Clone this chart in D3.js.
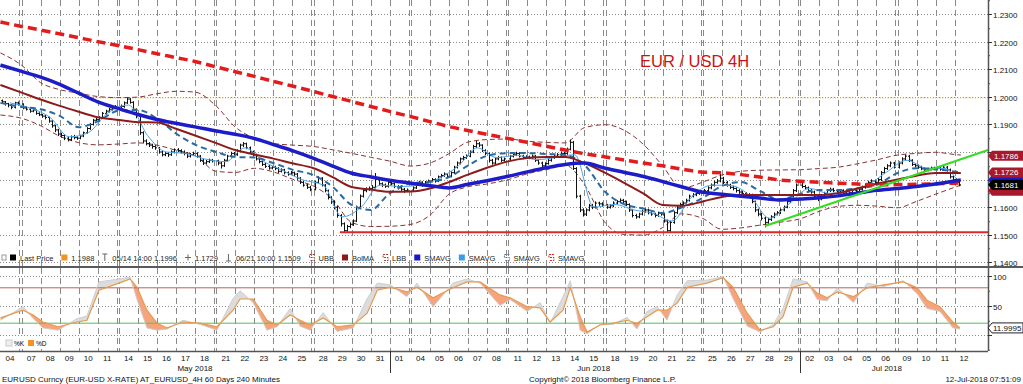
<!DOCTYPE html>
<html>
<head>
<meta charset="utf-8">
<script src="https://cdn.jsdelivr.net/npm/d3@7"></script>
<style>
body { margin: 0; background: #fff; }
svg text { font-family: "Liberation Sans", Arial, sans-serif; }
</style>
</head>
<body>
<svg id="chart"></svg>
<script>
var width = 1023,
    height = 384;

// trading days on the chart
var mayDays = [4,7,8,9,10,11,14,15,16,17,18,21,22,23,24,25,28,29,30,31];
var junDays = [1,4,5,6,7,8,11,12,13,14,15,18,19,20,21,22,25,26,27,28,29];
var julDays = [2,3,4,5,6,9,10,11,12];
var monthNames = ["May 2018", "Jun 2018", "Jul 2018"];
var priceTicks = [1.14,1.15,1.16,1.17,1.18,1.19,1.20,1.21,1.22,1.23];
var stochTicks = [0, 50, 100];

// 4H bars [high, low, close] in pips above 1.1000, one array per week
var wk0504 = [[990,976,982],[985,968,975],[978,962,970],[973,955,962],[982,958,978],[983,968,974]];
var wk0507 = [
  [976,955,960],[966,950,955],[958,942,948],[957,944,952],[954,935,940],[944,930,935],
  [938,924,930],[934,918,925],[928,906,912],[915,888,895],[899,872,880],[884,858,865],
  [870,852,860],[864,843,850],[856,838,845],[860,840,855],[862,846,852],[857,844,850],
  [862,846,858],[874,854,870],[890,866,885],[905,880,900],[920,896,915],[924,910,918],
  [930,913,925],[945,920,940],[953,935,948],[960,943,955],[966,950,960],[970,955,965]];
var wk0514 = [
  [972,958,965],[983,960,978],[996,974,992],[995,975,980],[984,950,955],[958,922,930],
  [933,862,870],[875,832,840],[846,824,830],[836,818,825],[830,812,820],[826,808,815],
  [818,794,800],[805,784,790],[800,785,795],[800,782,790],[806,786,800],[813,795,808],
  [814,799,805],[810,794,800],[806,788,795],[799,778,785],[796,780,790],[801,785,795],
  [799,779,785],[789,764,770],[775,753,760],[771,755,765],[776,760,770],[775,762,768]];
var wk0521 = [
  [772,752,760],[764,740,750],[775,746,770],[790,766,785],[801,780,795],[800,784,790],
  [810,786,805],[830,800,825],[836,818,830],[834,810,815],[820,794,800],[805,784,790],
  [794,769,775],[780,759,765],[770,749,755],[760,742,748],[753,736,742],[750,737,745],
  [750,734,740],[745,724,730],[741,726,735],[739,719,725],[730,714,720],[731,716,725],
  [729,713,720],[724,699,705],[709,684,690],[695,674,680],[685,666,672],[677,658,665]];
var wk0528 = [
  [695,661,690],[712,686,705],[709,675,680],[684,654,660],[664,628,635],[640,612,620],
  [625,592,600],[605,562,570],[575,530,540],[545,510,515],[536,511,530],[545,524,538],
  [556,532,550],[606,546,600],[646,595,640],[667,635,660],[672,654,665],[675,659,668],
  [680,662,672],[724,668,700],[705,678,685],[690,673,680],[686,670,676],[695,671,690],
  [695,679,685],[689,669,675],[680,664,670],[676,659,665],[670,652,660],[668,655,662]];
var wk0604 = [
  [676,658,670],[690,666,685],[696,680,690],[694,674,680],[695,676,690],[700,686,695],
  [706,690,700],[705,689,695],[715,691,710],[721,705,715],[726,710,720],[724,706,712],
  [730,708,725],[750,720,745],[766,740,760],[780,755,775],[786,770,780],[791,775,785],
  [806,781,800],[826,796,820],[840,815,830],[836,818,825],[828,800,805],[810,789,795],
  [798,762,770],[775,754,760],[780,756,775],[786,770,780],[784,764,770],[780,765,775]];
var wk0611 = [
  [790,770,785],[795,780,790],[801,785,795],[799,780,785],[790,774,780],[788,775,782],
  [787,774,780],[791,775,785],[789,764,770],[774,754,760],[765,744,750],[763,745,758],
  [775,754,770],[786,765,780],[790,775,785],[796,780,790],[802,785,795],[801,788,795],
  [816,790,810],[845,806,835],[840,735,740],[745,632,640],[645,582,590],[596,566,575],
  [596,568,590],[612,585,605],[612,593,600],[621,595,615],[620,605,612],[618,601,608]];
var wk0618 = [
  [612,594,600],[611,595,605],[621,600,615],[626,610,620],[632,615,625],[630,614,620],
  [624,604,610],[614,583,590],[594,563,570],[576,558,565],[580,560,575],[591,570,585],
  [596,580,590],[595,574,580],[585,569,575],[580,563,570],[584,565,578],[583,569,575],
  [579,544,550],[555,508,515],[550,511,545],[586,540,580],[606,575,600],[616,595,610],
  [621,605,615],[631,610,625],[646,620,640],[651,635,645],[656,640,650],[661,645,655]];
var wk0625 = [
  [666,650,660],[676,655,670],[686,665,680],[696,675,690],[702,685,695],[728,690,705],
  [710,684,690],[695,674,680],[685,666,672],[678,661,668],[672,653,660],[665,648,655],
  [660,644,650],[655,634,640],[651,635,645],[649,614,620],[624,582,590],[595,567,575],
  [580,552,560],[565,527,545],[561,540,555],[571,550,565],[581,560,575],[586,570,580],
  [596,575,590],[606,585,600],[626,596,620],[646,615,640],[666,635,660],[686,655,680]];
var wk0702 = [
  [688,669,675],[681,664,670],[675,654,660],[666,649,655],[660,633,640],[645,622,630],
  [646,625,640],[656,635,650],[666,645,660],[671,655,665],[670,654,660],[665,649,655],
  [666,650,660],[665,649,655],[664,650,658],[662,646,652],[666,647,660],[665,650,656],
  [671,651,665],[678,660,672],[686,667,680],[696,675,690],[701,685,695],[700,684,690],
  [706,685,700],[731,695,725],[746,720,740],[756,735,750],[766,745,760],[764,740,745]];
var wk0709 = [
  [766,740,760],[781,755,775],[791,770,785],[789,764,770],[774,749,755],[760,744,750],
  [755,739,745],[750,734,740],[745,729,735],[743,730,738],[747,733,742],[747,734,740],
  [748,735,742],[747,732,738],[751,733,745],[749,729,735],[740,704,710],[715,693,700],
  [705,684,690],[695,676,681]];
var firstOpen = 986;

// studies, one value per day start (last one = end of data)
var sma200 = [1.2271,1.2255,1.2242,1.2228,1.2214,1.2200,1.2185,1.2171,1.2156,1.2142,1.2128,1.2108,1.2091,1.2074,1.2056,1.2039,1.2019,1.2001,1.1983,1.1965,1.1947,1.1928,1.1910,1.1892,1.1878,1.1864,1.1849,1.1835,1.1821,1.1807,1.1794,1.1782,1.1771,1.1760,1.1750,1.1738,1.1727,1.1725,1.1718,1.1709,1.1699,1.1694,1.1690,1.1687,1.1684,1.1681,1.1682,1.1683,1.1685,1.1687,1.1688];
var sma100 = [1.2115,1.2092,1.2071,1.2045,1.2013,1.1982,1.1957,1.1936,1.1918,1.1904,1.1891,1.1876,1.1864,1.1849,1.1827,1.1805,1.1777,1.1749,1.1723,1.1710,1.1698,1.1687,1.1678,1.1670,1.1683,1.1696,1.1712,1.1728,1.1743,1.1755,1.1760,1.1741,1.1726,1.1711,1.1693,1.1674,1.1654,1.1647,1.1640,1.1633,1.1626,1.1630,1.1634,1.1641,1.1651,1.1661,1.1668,1.1675,1.1684,1.1695,1.1699];
var bolMA = [1.2043,1.2015,1.1990,1.1967,1.1946,1.1926,1.1916,1.1908,1.1907,1.1884,1.1860,1.1832,1.1807,1.1791,1.1776,1.1759,1.1741,1.1709,1.1673,1.1664,1.1656,1.1657,1.1668,1.1691,1.1718,1.1743,1.1766,1.1778,1.1782,1.1782,1.1760,1.1724,1.1687,1.1649,1.1608,1.1605,1.1621,1.1637,1.1644,1.1644,1.1644,1.1644,1.1644,1.1651,1.1668,1.1684,1.1700,1.1714,1.1724,1.1724,1.1724];
var ubb = [1.2159,1.2114,1.2051,1.2026,1.2013,1.2001,1.1997,1.1999,1.2011,1.2020,1.2017,1.1966,1.1890,1.1850,1.1831,1.1825,1.1820,1.1808,1.1795,1.1781,1.1767,1.1749,1.1760,1.1794,1.1836,1.1845,1.1847,1.1839,1.1835,1.1833,1.1888,1.1899,1.1878,1.1827,1.1750,1.1669,1.1691,1.1717,1.1730,1.1734,1.1735,1.1736,1.1740,1.1745,1.1757,1.1771,1.1789,1.1795,1.1799,1.1791,1.1789];
var lbb = [1.1934,1.1922,1.1895,1.1857,1.1834,1.1826,1.1829,1.1833,1.1825,1.1806,1.1787,1.1730,1.1726,1.1741,1.1728,1.1702,1.1676,1.1629,1.1545,1.1530,1.1531,1.1538,1.1571,1.1647,1.1674,1.1684,1.1700,1.1721,1.1736,1.1752,1.1683,1.1542,1.1501,1.1499,1.1526,1.1576,1.1559,1.1520,1.1525,1.1535,1.1545,1.1558,1.1585,1.1603,1.1607,1.1604,1.1598,1.1621,1.1647,1.1672,1.1680];
var smaDash = [1.1978,1.1963,1.1955,1.1931,1.1890,1.1911,1.1950,1.1952,1.1921,1.1867,1.1827,1.1800,1.1782,1.1780,1.1760,1.1736,1.1716,1.1674,1.1608,1.1590,1.1650,1.1687,1.1692,1.1709,1.1751,1.1786,1.1796,1.1796,1.1793,1.1789,1.1754,1.1654,1.1610,1.1595,1.1579,1.1599,1.1634,1.1677,1.1691,1.1659,1.1628,1.1648,1.1662,1.1662,1.1668,1.1680,1.1724,1.1741,1.1737,1.1729,1.1724];
// fast average, mid-day, pips above 1.1000
var smaFast = [978,958,925,855,870,940,970,860,800,795,775,765,815,765,733,700,680,565,600,680,675,680,705,750,815,780,788,772,780,790,600,610,590,578,550,635,680,678,640,560,610,668,650,657,678,725,770,742,740,695];

var highLine = 1.1996;
var support = [[104.3, 1.1509], [304.6, 1.1509]];
var trend = [[235.6, 1.1532], [304.6, 1.1807]];

// stochastics (bar index, %D, %K)
var stochT = [0,6.4,9.6,12.7,17.5,23.5,26.6,30.4,36,39.5,41.7,44.8,48,51.2,56.2,61.6,66.2,71.3,73.5,77.6,82,85.2,89.3,92.5,95.6,99,103.4,108.5,112.9,116.1,120.2,125.4,127.9,133,139.3,143.7,147.8,154.1,156.6,162,166.1,169.2,173.3,175.6,178.7,180.9,185,188.4,192.8,195.9,199.1,202.3,205.4,208.6,211.8,217.3,222.4,225.5,230,234.1,238.2,241.3,244.5,248.2,251.4,254.5,257.7,262.8,267.2,272.3,277.8,282.2,285.3,289.4,293.5,295.7];
var stochD = [29,42,34,22,14,22,25,76,88,95,81,42,20,12,22,20,14,42,61,61,25,17,34,25,17,29,14,17,37,76,81,73,81,63,80,90,90,68,63,48,46,22,42,80,31,5,17,20,25,20,31,42,42,54,81,88,97,81,37,8,14,31,81,88,71,63,73,65,80,85,90,80,59,48,22,12];
var stochK = [25,48,28,12,8,28,32,90,95,98,60,12,8,10,25,18,8,62,75,55,8,14,45,15,8,38,6,12,62,88,85,65,88,48,88,95,88,50,60,40,55,20,65,92,8,2,18,18,30,10,40,48,25,68,92,93,99,62,15,5,18,45,95,90,60,58,80,55,88,82,92,70,45,40,12,10];

// right-axis value tags, drawn bottom-up; hidden ones sit behind others
var axisTags = [
  { v: 1.1699, fill: "#1c1cc8", hidden: true },
  { v: 1.1660, fill: "#a8192b", hidden: true },
  { v: 1.1681, fill: "#000000" },
  { v: 1.1726, fill: "#a8192b" },
  { v: 1.1786, fill: "#a8192b" }];
var stochTag = 11.9995;

var legendItems = [
  { icon: "sq", color: "#000", text: "Last Price" },
  { icon: "sq", color: "#f29422", text: "1.1988" },
  { icon: "hi", color: "#666", text: "05/14 14:00 1.1996" },
  { icon: "plus", color: "#666", text: "1.1729" },
  { icon: "lo", color: "#666", text: "06/21 10:00 1.1509" },
  { icon: "dash", color: "#9a3a3a", text: "UBB" },
  { icon: "sq", color: "#8c1c1c", text: "BolMA" },
  { icon: "dash", color: "#9a3a3a", text: "LBB" },
  { icon: "sq", color: "#1818c8", text: "SMAVG" },
  { icon: "sq", color: "#3d9be9", text: "SMAVG" },
  { icon: "dash", color: "#5a7088", text: "SMAVG" },
  { icon: "dash", color: "#e02020", text: "SMAVG" }];

// ---------- layout ----------
var plotR = 988, mainBot = 266, stTop = 268, stBot = 351;

var svg = d3.select("#chart")
    .attr("width", width)
    .attr("height", height);

svg.append("rect").attr("width", width).attr("height", height).style("fill", "white");

var dates = [].concat(
  mayDays.map(d => new Date(2018, 4, d)),
  junDays.map(d => new Date(2018, 5, d)),
  julDays.map(d => new Date(2018, 6, d)));
var weekStarts = [0];
dates.forEach((d, i) => { if (i > 0 && d.getDay() === 1) weekStarts.push(i * 6); });

var gapU = 0.73;
function uOf(t) { return t + (d3.bisectRight(weekStarts, t) - 1) * gapU; }

var x = d3.scaleLinear()
    .domain([0, 6 * dates.length + (weekStarts.length - 1) * gapU])
    .range([0.4, 973.5]);
var y = d3.scaleLinear().domain([1.14, 1.23]).range([262.4, 14]);
var yS = d3.scaleLinear().domain([0, 100]).range([335, 276]);
var pip = v => 1.1 + v / 10000;

var bars = [].concat(wk0504, wk0507, wk0514, wk0521, wk0528, wk0604, wk0611, wk0618, wk0625, wk0702, wk0709);

function dayStartX(i) { return x(uOf(6 * i)); }
function dayEndX(i) { return x(uOf(6 * i) + 6); }

// ---------- grids ----------
var grid = svg.append("g");
priceTicks.forEach(p => {
  grid.append("line")
    .attr("x1", 0).attr("x2", plotR)
    .attr("y1", Math.round(y(p)) + 0.5).attr("y2", Math.round(y(p)) + 0.5)
    .style("stroke", "#8a8a8a").style("stroke-dasharray", "1,2");
});
stochTicks.forEach(v => {
  grid.append("line")
    .attr("x1", 0).attr("x2", plotR)
    .attr("y1", Math.round(yS(v)) + 0.5).attr("y2", Math.round(yS(v)) + 0.5)
    .style("stroke", "#8a8a8a").style("stroke-dasharray", "1,2");
});

var vx = [];
dates.forEach((d, i) => {
  if (i > 0) vx.push(dayStartX(i));
  var nxt = dates[i + 1];
  if (nxt && nxt.getDay() === 1) vx.push(dayEndX(i));
});
vx.forEach(xx => {
  [[0, mainBot], [stTop, stBot]].forEach(r => {
    grid.append("line")
      .attr("x1", Math.round(xx) + 0.5).attr("x2", Math.round(xx) + 0.5)
      .attr("y1", r[0]).attr("y2", r[1])
      .style("stroke", "#8a8a8a").style("stroke-dasharray", "6,4");
  });
});

// ---------- main panel ----------
var main = svg.append("g");

main.append("line")
  .attr("x1", 0).attr("x2", plotR)
  .attr("y1", y(highLine)).attr("y2", y(highLine))
  .style("stroke", "#e2b640").style("stroke-dasharray", "1,1.5");

var dayLine = d3.line()
  .x((v, i) => x(uOf(i < dates.length ? 6 * i : 296)))
  .y(v => y(v))
  .curve(d3.curveMonotoneX);

function addLine(vals, color, w, dash) {
  main.append("path")
    .attr("d", dayLine(vals))
    .style("fill", "none")
    .style("stroke", color)
    .style("stroke-width", w)
    .style("stroke-dasharray", dash || null);
}

addLine(ubb, "#8a3434", 1, "5,3");
addLine(lbb, "#8a3434", 1, "5,3");

// OHLC bars
var barPath = "";
var prev = firstOpen;
bars.forEach((b, t) => {
  var xc = Math.round(x(uOf(t) + 0.5)) + 0.5;
  barPath += "M" + xc + "," + y(pip(b[0])) + "V" + y(pip(b[1]));
  barPath += "M" + (xc - 1.5) + "," + y(pip(prev)) + "H" + xc;
  barPath += "M" + xc + "," + y(pip(b[2])) + "H" + (xc + 1.5);
  prev = b[2];
});
main.append("path").attr("d", barPath)
  .style("fill", "none").style("stroke", "#111").style("stroke-width", 1);

main.append("path")
  .attr("d", d3.line()
    .x((v, i) => x(uOf(Math.min(6 * i + 3, 295))))
    .y(v => y(pip(v)))
    .curve(d3.curveMonotoneX)(smaFast))
  .style("fill", "none").style("stroke", "#4aa3ea").style("stroke-width", 1);

addLine(smaDash, "#2a6aa2", 2, "6,4");
addLine(bolMA, "#8c1c1c", 2);
addLine(sma200, "#e21c1c", 3.5, "9,5");
addLine(sma100, "#1c1cc8", 3.5);

var seg = d3.line().x(d => x(uOf(d[0]))).y(d => y(d[1]));
main.append("path").attr("d", seg(support))
  .style("stroke", "#e02828").style("stroke-width", 2).style("fill", "none");
main.append("path").attr("d", seg(trend))
  .style("stroke", "#33dd22").style("stroke-width", 2).style("fill", "none");

main.append("text")
  .attr("x", 640).attr("y", 67)
  .style("font-size", "16.5px")
  .style("fill", "#cc1111")
  .text("EUR / USD 4H");

// legend row
var lg = svg.append("g").attr("transform", "translate(0,258)");
lg.append("rect").attr("x", 2).attr("y", -3).attr("width", 4).attr("height", 5)
  .style("fill", "none").style("stroke", "#999");
var lx = 10;
legendItems.forEach(it => {
  if (it.icon === "sq") {
    lg.append("rect").attr("x", lx).attr("y", -3.5).attr("width", 6).attr("height", 6).style("fill", it.color);
  } else if (it.icon === "dash") {
    lg.append("path").attr("d", "M" + (lx + 6) + ",-3.5 h-5 v3 h5 v3 h-5")
      .style("fill", "none").style("stroke", it.color).style("stroke-dasharray", "2,1");
  } else if (it.icon === "hi") {
    lg.append("path").attr("d", "M" + lx + ",-4 h5 M" + (lx + 2.5) + ",-4 v7")
      .style("stroke", it.color).style("fill", "none");
  } else if (it.icon === "lo") {
    lg.append("path").attr("d", "M" + lx + ",3 h5 M" + (lx + 2.5) + ",3 v-7")
      .style("stroke", it.color).style("fill", "none");
  } else {
    lg.append("path").attr("d", "M" + lx + ",-0.5 h6 M" + (lx + 3) + ",-3.5 v6")
      .style("stroke", it.color).style("fill", "none");
  }
  var tx = lg.append("text").attr("x", lx + 10).attr("y", 3)
    .style("font-size", "7.5px").style("fill", "#222").text(it.text);
  lx += 10 + tx.node().getComputedTextLength() + 8;
});

// ---------- stochastic panel ----------
var st = svg.append("g");
var sp = stochT.map((t, i) => ({ x: x(uOf(t)), d: stochD[i], k: stochK[i] }));

var clipLine = d3.line().x(d => d.x).y(d => yS(d.d));
var dPath = clipLine(sp);
var x0 = sp[0].x, x1 = sp[sp.length - 1].x;
svg.append("clipPath").attr("id", "above")
  .append("path").attr("d", dPath + "L" + x1 + "," + stTop + "L" + x0 + "," + stTop + "Z");
svg.append("clipPath").attr("id", "below")
  .append("path").attr("d", dPath + "L" + x1 + "," + stBot + "L" + x0 + "," + stBot + "Z");

var band = d3.area().x(d => d.x).y0(d => yS(d.d)).y1(d => yS(d.k));
st.append("path").attr("d", band(sp)).attr("clip-path", "url(#above)")
  .style("fill", "#dcdcdc");
st.append("path").attr("d", band(sp)).attr("clip-path", "url(#below)")
  .style("fill", "#f6a47e");

st.append("line").attr("x1", 0).attr("x2", plotR).attr("y1", yS(80)).attr("y2", yS(80))
  .style("stroke", "#b86060");
st.append("line").attr("x1", 0).attr("x2", plotR).attr("y1", yS(20)).attr("y2", yS(20))
  .style("stroke", "#55c055");

st.append("path").attr("d", d3.line().x(d => d.x).y(d => yS(d.k))(sp))
  .style("fill", "none").style("stroke", "#cfcfcf").style("stroke-width", 1);
st.append("path").attr("d", dPath)
  .style("fill", "none").style("stroke", "#e79a4e").style("stroke-width", 1.2);

var sl = st.append("g").attr("transform", "translate(0,343)");
sl.append("rect").attr("x", 0).attr("y", -6).attr("width", 44).attr("height", 12).style("fill", "white");
sl.append("rect").attr("x", 6).attr("y", -3).attr("width", 6).attr("height", 6).style("fill", "#eee").style("stroke", "#ccc");
sl.append("text").attr("x", 14).attr("y", 2.5).style("font-size", "6.5px").text("%K");
sl.append("rect").attr("x", 28).attr("y", -3).attr("width", 6).attr("height", 6).style("fill", "#f29422");
sl.append("text").attr("x", 36).attr("y", 2.5).style("font-size", "6.5px").text("%D");

// ---------- frame and axes ----------
var fr = svg.append("g");
fr.append("rect").attr("x", 0).attr("y", mainBot).attr("width", width).attr("height", 2).style("fill", "#5a5a5a");
fr.append("line").attr("x1", plotR + 0.5).attr("x2", plotR + 0.5).attr("y1", 0).attr("y2", stBot)
  .style("stroke", "#555").style("stroke-width", 1.5);
fr.append("line").attr("x1", 0).attr("x2", plotR).attr("y1", stBot + 0.5).attr("y2", stBot + 0.5)
  .style("stroke", "#555").style("stroke-width", 1.5);

// a tick label is covered when a visible tag sits on it
var shownTags = axisTags.filter(tg => !tg.hidden);
priceTicks.forEach(p => {
  var yy = Math.round(y(p)) + 0.5;
  fr.append("line").attr("x1", plotR).attr("x2", plotR + 4).attr("y1", yy).attr("y2", yy).style("stroke", "#333");
  fr.append("line").attr("x1", plotR).attr("x2", plotR + 2).attr("y1", yy - 13.8).attr("y2", yy - 13.8).style("stroke", "#555");
  var covered = shownTags.some(tg => Math.abs(y(tg.v) - yy) < 9);
  if (!covered) {
    fr.append("text").attr("x", 993).attr("y", yy + 3).style("font-size", "8px").style("fill", "#111")
      .text(d3.format(".4f")(p));
  }
});
stochTicks.forEach(v => {
  var yy = Math.round(yS(v)) + 0.5;
  fr.append("line").attr("x1", plotR).attr("x2", plotR + 4).attr("y1", yy).attr("y2", yy).style("stroke", "#333");
  fr.append("line").attr("x1", plotR).attr("x2", plotR + 2).attr("y1", yy + 14.75).attr("y2", yy + 14.75).style("stroke", "#555");
  if (Math.abs(yS(stochTag) - yy) > 9) {
    fr.append("text").attr("x", 993).attr("y", yy + 3).style("font-size", "8px").style("fill", "#111").text(v);
  }
});

function tagPath(cy) {
  return "M" + plotR + "," + cy + "L" + (plotR + 4) + "," + (cy - 5) + "H" + width + "V" + (cy + 5) + "H" + (plotR + 4) + "Z";
}
axisTags.forEach(tg => {
  var cy = y(tg.v);
  fr.append("path").attr("d", tagPath(cy)).style("fill", tg.fill);
  if (!tg.hidden) {
    fr.append("text").attr("x", 994).attr("y", cy + 3).style("font-size", "8px").style("fill", "white")
      .text(d3.format(".4f")(tg.v));
  }
});
var sy = yS(stochTag);
fr.append("path").attr("d", tagPath(sy)).style("fill", "white").style("stroke", "#222");
fr.append("text").attr("x", 993).attr("y", sy + 3).style("font-size", "8px").style("fill", "#111")
  .text(stochTag);

// date axis
dates.forEach((d, i) => {
  fr.append("text")
    .attr("x", (dayStartX(i) + dayEndX(i)) / 2).attr("y", 361)
    .attr("text-anchor", "middle")
    .style("font-size", "8px").style("fill", "#111")
    .text(d3.timeFormat("%d")(d));
});
[mayDays, junDays, julDays].forEach((m, k) => {
  var first = k === 0 ? 0 : d3.sum([mayDays, junDays, julDays].slice(0, k), a => a.length);
  var last = first + m.length - 1;
  var a = dayStartX(first), b = Math.min(dayEndX(last), plotR);
  if (k > 0) {
    fr.append("line").attr("x1", Math.round(a) + 0.5).attr("x2", Math.round(a) + 0.5)
      .attr("y1", stBot).attr("y2", 373).style("stroke", "#333");
  }
  fr.append("text").attr("x", (a + b) / 2).attr("y", 371).attr("text-anchor", "middle")
    .style("font-size", "8px").style("fill", "#111").text(monthNames[k]);
});

fr.append("text").attr("x", 2).attr("y", 382).style("font-size", "8px").style("fill", "#111")
  .text("EURUSD Curncy (EUR-USD X-RATE) AT_EURUSD_4H 60 Days 240 Minutes");
fr.append("text").attr("x", 529).attr("y", 382).style("font-size", "8px").style("fill", "#111")
  .text("Copyright\u00a9 2018 Bloomberg Finance L.P.");
fr.append("text").attr("x", 1021).attr("y", 382).attr("text-anchor", "end").style("font-size", "8px").style("fill", "#111")
  .text("12-Jul-2018 07:51:09");
</script>
</body>
</html>
